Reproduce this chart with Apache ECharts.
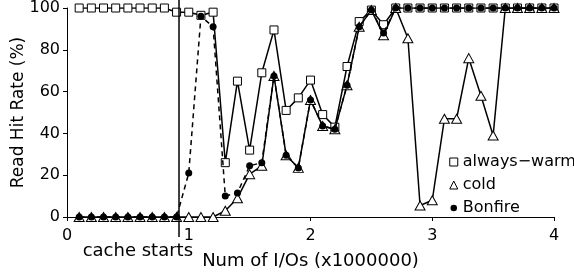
<!DOCTYPE html>
<html>
<head>
    <meta charset="utf-8">
    <title>Read Hit Rate</title>
    <script src="https://cdn.jsdelivr.net/npm/echarts@6/dist/echarts.min.js"></script>
    <style>
        html, body { margin: 0; padding: 0; background: #fff; }
    </style>
</head>
<body>
    <div id="main" style="width:574px;height:279px;"></div>
    <script type="text/javascript">

        // x positions, in millions of I/Os
        var ios = [0.1, 0.2, 0.3, 0.4, 0.5, 0.6, 0.7, 0.8, 0.9, 1.0,
                   1.1, 1.2, 1.3, 1.4, 1.5, 1.6, 1.7, 1.8, 1.9, 2.0,
                   2.1, 2.2, 2.3, 2.4, 2.5, 2.6, 2.7, 2.8, 2.9, 3.0,
                   3.1, 3.2, 3.3, 3.4, 3.5, 3.6, 3.7, 3.8, 3.9, 4.0];

        var alwaysWarm = [100, 100, 100, 100, 100, 100, 100, 100, 98, 98,
                          96.5, 98, 26, 65, 32, 69, 89.5, 51, 57, 65.5,
                          49, 43, 72, 93.5, 99, 92, 100, 100, 100, 100,
                          100, 100, 100, 100, 100, 100, 100, 100, 100, 100];

        var cold = [0, 0, 0, 0, 0, 0, 0, 0, 0, 0,
                    0, 0, 3, 9, 20.5, 24.5, 67.5, 29.5, 23.5, 56,
                    43.5, 42, 63, 91, 99, 87, 100, 85.5, 5.5, 8,
                    47, 47, 76, 58, 39, 100, 100, 100, 100, 100];

        var bonfire = [0, 0, 0, 0, 0, 0, 0, 0, 0, 21,
                       96, 91, 10, 11.5, 24.5, 26, 67.5, 29.5, 23.5, 56,
                       43.5, 42, 63, 91, 99, 88, 100, 100, 100, 100,
                       100, 100, 100, 100, 100, 100, 100, 100, 100, 100];

        var xTicks = [0, 1, 2, 3, 4];
        var yTicks = [0, 20, 40, 60, 80, 100];
        var cacheStart = 0.92;

        var FONT = 'DejaVu Sans';

        function pairs(xs, ys) {
            var out = [];
            for (var i = 0; i < xs.length; i++) out.push([xs[i], ys[i]]);
            return out;
        }

        var myChart = echarts.init(document.getElementById('main'));

        var option = {
            animation: false,
            backgroundColor: '#fff',
            grid: { left: 67, right: 20, top: 8, bottom: 62, outerBoundsMode: 'none', containLabel: false },
            legend: {
                orient: 'vertical',
                left: 444,
                top: 149,
                itemWidth: 8,
                itemHeight: 8,
                itemGap: 7,
                selectedMode: false,
                textStyle: { fontFamily: FONT, fontSize: 16, color: '#000', lineHeight: 16 },
                data: [
                    { name: 'always−warm', icon: 'rect',
                      itemStyle: { color: '#fff', borderColor: '#000', borderWidth: 1 } },
                    { name: 'cold', icon: 'triangle',
                      itemStyle: { color: '#fff', borderColor: '#000', borderWidth: 1 } },
                    { name: 'Bonfire', icon: 'circle',
                      itemStyle: { color: '#000', borderColor: '#fff', borderWidth: 1.5 } }
                ]
            },
            xAxis: {
                type: 'value',
                min: xTicks[0],
                max: xTicks[xTicks.length - 1],
                interval: 1,
                name: 'Num of I/Os (x1000000)',
                nameLocation: 'middle',
                nameGap: 35,
                nameMoveOverlap: false,
                nameTextStyle: { fontFamily: FONT, fontSize: 18, color: '#000' },
                axisLine: { lineStyle: { color: '#000', width: 1 } },
                axisTick: { length: 4, lineStyle: { color: '#000' } },
                axisLabel: { fontFamily: FONT, fontSize: 16, color: '#000', margin: 11 },
                splitLine: { show: false }
            },
            yAxis: {
                type: 'value',
                min: yTicks[0],
                max: yTicks[yTicks.length - 1],
                interval: 20,
                name: 'Read Hit Rate (%)',
                nameLocation: 'middle',
                nameGap: 40,
                nameMoveOverlap: false,
                nameTextStyle: { fontFamily: FONT, fontSize: 17, color: '#000' },
                axisLine: { show: true, lineStyle: { color: '#000', width: 1 } },
                axisTick: { show: true, length: 4, lineStyle: { color: '#000' } },
                axisLabel: { fontFamily: FONT, fontSize: 16, color: '#000', margin: 7 },
                splitLine: { show: false }
            },
            series: [
                {
                    name: 'always−warm',
                    type: 'line',
                    data: pairs(ios, alwaysWarm),
                    symbol: 'rect',
                    symbolSize: 8,
                    showAllSymbol: true,
                    z: 2,
                    itemStyle: { color: '#fff', borderColor: '#000', borderWidth: 1 },
                    lineStyle: { color: '#000', width: 1.5 },
                    emphasis: { disabled: true }
                },
                {
                    name: 'cold',
                    type: 'line',
                    data: pairs(ios, cold),
                    symbol: 'triangle',
                    symbolSize: [10, 9],
                    showAllSymbol: true,
                    z: 3,
                    itemStyle: { color: '#fff', borderColor: '#000', borderWidth: 1 },
                    lineStyle: { color: '#000', width: 1.5 },
                    emphasis: { disabled: true }
                },
                {
                    name: 'Bonfire',
                    type: 'line',
                    data: pairs(ios, bonfire),
                    symbol: 'circle',
                    symbolSize: 7,
                    showAllSymbol: true,
                    z: 4,
                    itemStyle: { color: '#000', borderWidth: 0 },
                    lineStyle: { color: '#000', width: 1.5, type: [5, 4] },
                    emphasis: { disabled: true }
                }
            ]
        };
        myChart.setOption(option);

        // "cache starts" marker, placed from the axis scale
        var p = myChart.convertToPixel({ xAxisIndex: 0, yAxisIndex: 0 }, [cacheStart, 0]);
        myChart.setOption({
            graphic: [
                {
                    type: 'line',
                    shape: { x1: p[0], y1: 0, x2: p[0], y2: p[1] + 20 },
                    style: { stroke: '#000', lineWidth: 1.5 },
                    z: 10
                },
                {
                    type: 'text',
                    x: p[0] + 14,
                    y: p[1] + 34,
                    style: {
                        text: 'cache starts',
                        font: '18px "DejaVu Sans"',
                        fill: '#000',
                        align: 'right',
                        verticalAlign: 'middle'
                    },
                    z: 10
                }
            ]
        });
    </script>
</body>
</html>
